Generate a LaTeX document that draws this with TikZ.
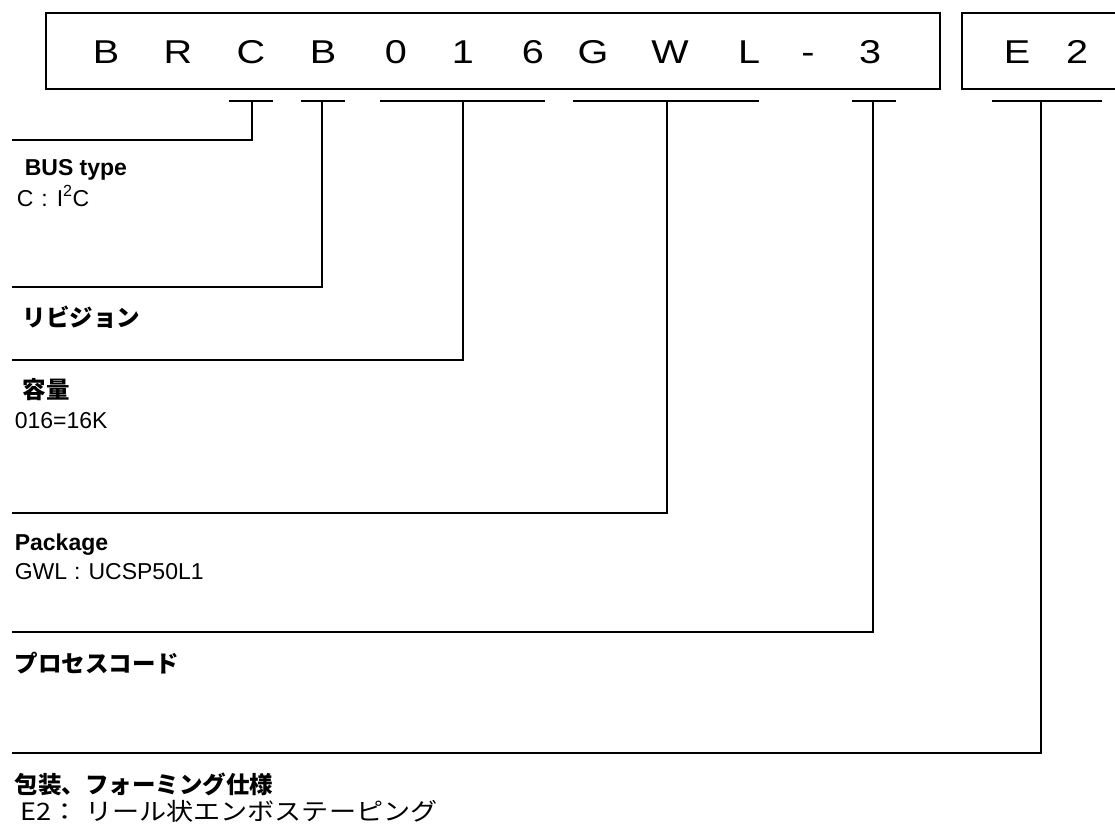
\documentclass[tikz,border=0pt]{standalone}
\usepackage{fontspec}
\setmainfont{Liberation Sans}
\newfontfamily\jpfont{Noto Sans CJK JP}
\definecolor{ink}{HTML}{000000}
\newcommand{\widechar}[2][1.2]{\scalebox{#1}[1]{#2}}

\begin{document}
\begin{tikzpicture}[x=1pt,y=-1pt,line width=1.6pt,draw=ink,text=ink,
  code/.style={font=\fontsize{33}{36}\selectfont,anchor=base,inner sep=0pt},
  head/.style={font=\fontsize{23}{26}\selectfont\bfseries,anchor=base west,inner sep=0pt},
  note/.style={font=\fontsize{23}{26}\selectfont,anchor=base west,inner sep=0pt},
  jhead/.style={font=\fontsize{23.5}{26}\selectfont\jpfont\bfseries,anchor=west,inner sep=0pt},
  jnote/.style={font=\fontsize{24}{26}\selectfont\jpfont,anchor=west,inner sep=0pt},
  lead/.style={line width=1.4pt}]
  \useasboundingbox (0,0) rectangle (1115,828);
  \fill[white] (0,0) rectangle (1115,828);
  % part number boxes
  \draw (46,13) rectangle (940,89);
  \draw (1130,13) -- (962,13) -- (962,89) -- (1130,89);
  \foreach \ch/\x [count=\i] in {B/106,R/178,C/251,B/323,0/396,1/463,6/533,G/593,W/670,L/749,-/808,3/870,E/1017,2/1077}
    \node[code] (ch\i) at (\x,63) {\widechar{\ch}};
  % field brackets and leaders
  \foreach \a/\b/\m/\y [count=\i] in {229/273/252/140,301/345/322/287,380/545/463/360,573/759/667/513,852/896/873/632,992/1102/1041/753}{
    \draw (\a,101) -- (\b,101);
    \coordinate (top\i) at (\m,101);
    \coordinate (end\i) at (12,\y);
    \draw[lead] (top\i) |- (end\i);
  }
  % field descriptions
  \node[head] (bus) at (24,175) {BUS type};
  \node[note] (busval) at (16,206) {C\hspace{8pt}:\hspace{9pt}I\textsuperscript{2}C};
  \node[jhead] (rev) at (22,317) {リビジョン};
  \node[jhead] (cap) at (22,390) {容量};
  \node[note] (capval) at (14,428) {016=16K};
  \node[head] (pkg) at (14,550) {Package};
  \node[note] (pkgval) at (14,579) {GWL\hspace{7pt}:\hspace{8pt}UCSP50L1};
  \node[jhead] (proc) at (14,663) {プロセスコード};
  \node[jhead] (pack) at (14,784) {包装、フォーミング仕様};
  \node[jnote] (packval) at (20,811) {\widechar[1.13]{E2： リール状エンボステーピング}};
\end{tikzpicture}
\end{document}
